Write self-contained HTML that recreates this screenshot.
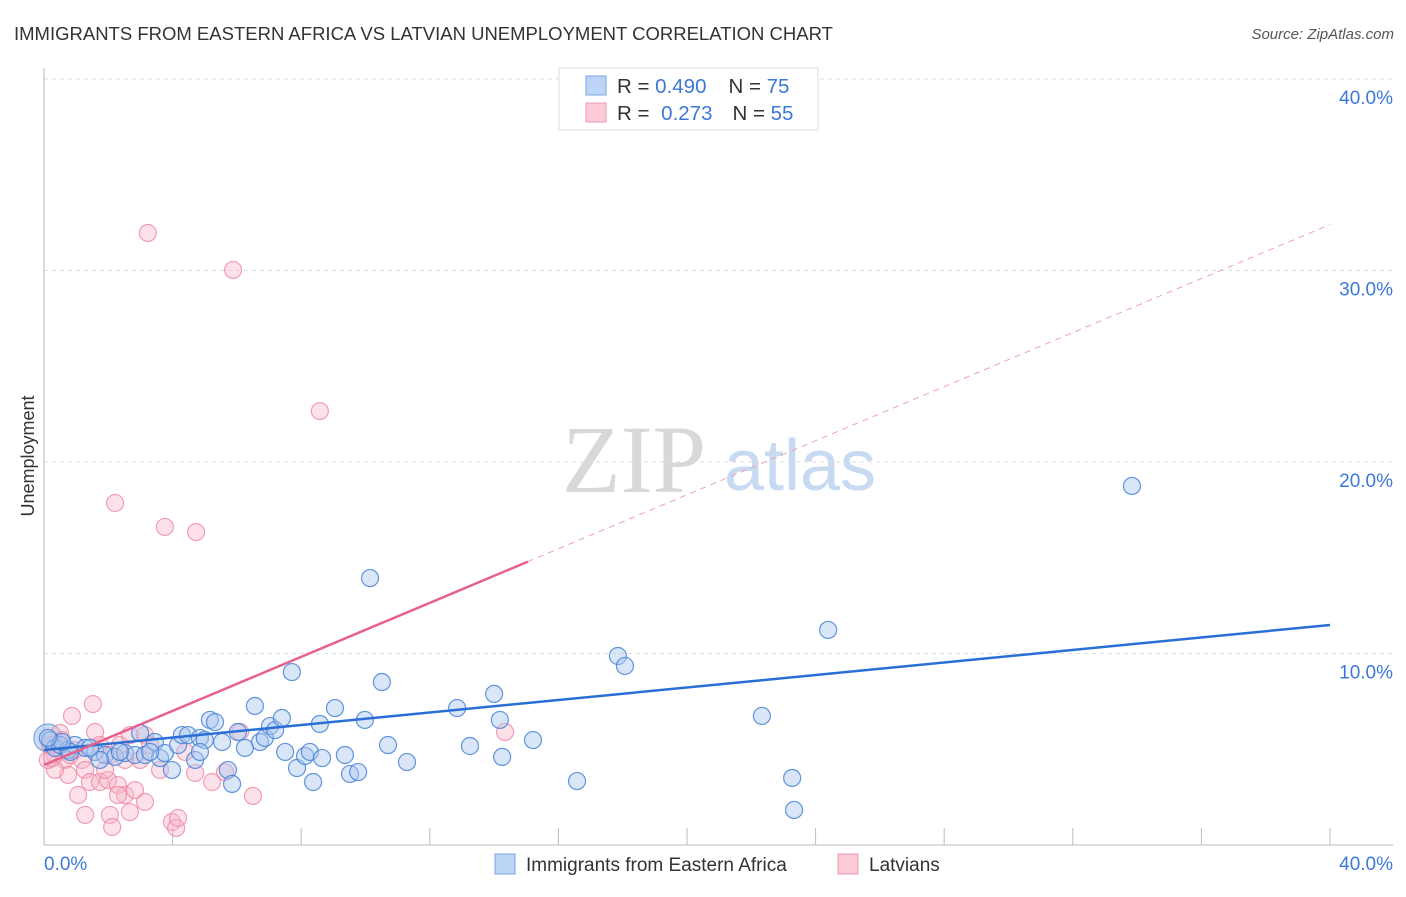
<!DOCTYPE html>
<html><head><meta charset="utf-8"><style>
body{margin:0;background:#fff;font-family:"Liberation Sans",sans-serif}
svg text{font-family:"Liberation Sans",sans-serif}
</style></head><body>
<svg id="c" width="1406" height="892">
<text x="14" y="40" font-size="18.5" fill="#333">IMMIGRANTS FROM EASTERN AFRICA VS LATVIAN UNEMPLOYMENT CORRELATION CHART</text>
<text x="1394" y="39" font-size="15" fill="#555" font-style="italic" text-anchor="end">Source: ZipAtlas.com</text>
<text x="34" y="456" font-size="18" fill="#333" text-anchor="middle" transform="rotate(-90 34 456)">Unemployment</text>
<g>
<text x="634" y="492" font-size="96" fill="#d8d8d8" font-family="Liberation Serif,serif" text-anchor="middle" style="font-family:'Liberation Serif',serif">ZIP</text>
<text x="800" y="490" font-size="72" fill="#c8daf2" text-anchor="middle">atlas</text>
</g>
<g id="grid"></g><g id="axes"></g><g id="pts"></g><g id="lines"></g>
<g>
<rect x="559" y="68" width="259" height="62" fill="#fff" stroke="#ddd"/>
<rect x="586" y="76" width="20" height="19" fill="#bcd4f6" stroke="#7aa6e6"/>
<rect x="586" y="103" width="20" height="19" fill="#fbcbd8" stroke="#ef9ab4"/>
<text x="617" y="93" font-size="20.5" fill="#333">R = <tspan fill="#3d78d8">0.490</tspan><tspan dx="22">N = </tspan><tspan fill="#3d78d8">75</tspan></text>
<text x="617" y="120" font-size="20.5" fill="#333">R = <tspan fill="#3d78d8" dx="6">0.273</tspan><tspan dx="20">N = </tspan><tspan fill="#3d78d8">55</tspan></text>
</g>
<g>
<rect x="495" y="854" width="20" height="20" fill="#bcd4f6" stroke="#7aa6e6"/>
<text x="526" y="871" font-size="19" fill="#333">Immigrants from Eastern Africa</text>
<rect x="838" y="854" width="20" height="20" fill="#fbcbd8" stroke="#ef9ab4"/>
<text x="869" y="871" font-size="19" fill="#333">Latvians</text>
</g>
</svg>
<script>
const yTicks=[10,20,30,40];
const yTickLabels=["10.0%","20.0%","30.0%","40.0%"];
const xTickVals=[0,4,8,12,16,20,24,28,32,36,40];
const blueX=[0.19,0.34,0.5,0.75,0.96,1.28,1.59,1.9,2.21,2.52,2.83,2.99,3.14,3.45,3.61,3.76,3.98,4.17,4.29,4.48,4.7,4.85,5.0,5.16,5.32,5.54,5.72,5.85,6.03,6.25,6.56,6.72,6.87,7.03,7.19,7.4,7.5,7.71,7.87,8.12,8.27,8.37,8.58,8.65,9.05,9.36,9.52,9.77,9.98,10.14,10.51,10.7,11.29,12.85,13.25,14.0,14.18,14.25,15.21,16.58,17.85,18.07,22.33,23.27,23.33,24.39,33.84,1.74,2.36,1.43,0.81,0.56,4.85,3.3,0.12];
const blueY=[5.48,5.07,5.22,4.96,5.22,5.07,4.86,4.7,4.6,4.8,4.7,5.85,4.7,5.38,4.54,4.8,3.92,5.22,5.74,5.74,4.44,5.59,5.48,6.53,6.42,5.38,3.92,3.19,5.9,5.07,7.26,5.38,5.59,6.21,6.0,6.63,4.86,9.03,4.02,4.65,4.86,3.29,6.32,4.54,7.15,4.7,3.71,3.81,6.53,13.94,8.51,5.22,4.33,7.15,5.17,7.89,6.53,4.6,5.48,3.34,9.87,9.35,6.74,3.5,1.83,11.23,18.75,4.44,4.86,5.07,4.86,5.38,4.86,4.86,5.59];
const pinkX=[3.23,5.88,8.58,2.21,3.76,4.73,0.87,1.52,1.59,0.5,0.19,0.34,0.65,0.96,1.18,1.74,2.05,2.36,2.67,3.14,3.61,0.75,1.06,1.28,1.43,1.74,1.99,2.3,2.52,2.83,3.14,2.3,1.28,2.05,2.12,2.67,3.98,4.11,4.17,4.7,5.23,5.63,6.1,6.5,14.34,4.39,2.99,0.34,0.56,0.12,0.25,3.3,1.9,2.52,0.81];
const pinkY=[31.96,30.03,22.66,17.86,16.61,16.34,6.74,7.36,5.9,5.85,5.22,4.7,4.44,4.96,4.44,5.22,4.7,5.22,5.74,5.74,3.92,3.66,2.61,3.92,3.29,3.29,3.39,3.13,2.61,2.87,2.25,2.61,1.57,1.57,0.94,1.72,1.2,0.89,1.41,3.76,3.29,3.81,5.9,2.56,5.9,4.86,4.44,3.92,5.48,4.44,4.54,5.22,3.92,4.44,4.7];
const blueLine=[4.96,11.49];
const pinkLine=[4.18,32.4];
const pinkSolidEnd=15.05;
const X=v=>44+v*32.15, Y=v=>845-v*19.15;
const NS="http://www.w3.org/2000/svg";
function mk(t,a,p){const e=document.createElementNS(NS,t);for(const k in a)e.setAttribute(k,a[k]);p.appendChild(e);return e;}
const g=document.getElementById('grid'),ax=document.getElementById('axes'),pts=document.getElementById('pts'),ln=document.getElementById('lines');
yTicks.forEach((v,i)=>{const l=mk('line',{x1:44,x2:1393,y1:Y(v),y2:Y(v),stroke:'#ddd','stroke-dasharray':'4,4'},g);


const t=mk('text',{x:1393,y:Y(v)+25,'font-size':19,fill:'#3d78d8','text-anchor':'end'},ax);t.textContent=yTickLabels[i];

});
const al=mk('line',{x1:44,x2:44,y1:68,y2:845,stroke:'#bbb'},ax);


const bl=mk('line',{x1:44,x2:1393,y1:845,y2:845,stroke:'#bbb'},ax);


xTickVals.forEach(v=>{const t=mk('line',{x1:X(v),x2:X(v),y1:828,y2:845,stroke:'#bbb'},ax);

});
const x0=mk('text',{x:44,y:870,'font-size':19,fill:'#3d78d8'},ax);x0.textContent='0.0%';


const x1=mk('text',{x:1393,y:870,'font-size':19,fill:'#3d78d8','text-anchor':'end'},ax);x1.textContent='40.0%';


const big=mk('circle',{cx:X(0.12),cy:Y(5.59),r:14,fill:'rgba(140,175,230,0.45)',stroke:'#6a9ee0'},pts);


pinkX.forEach((v,i)=>{const c=mk('circle',{cx:X(v),cy:Y(pinkY[i]),r:8.5,fill:'rgba(248,180,200,0.4)',stroke:'rgba(236,130,160,0.75)','stroke-width':1.2},pts);

});
blueX.forEach((v,i)=>{const c=mk('circle',{cx:X(v),cy:Y(blueY[i]),r:8.5,fill:'rgba(170,200,240,0.45)',stroke:'rgba(70,130,215,0.85)','stroke-width':1.2},pts);

});
const b=mk('line',{x1:X(0),y1:Y(blueLine[0]),x2:X(40),y2:Y(blueLine[1]),stroke:'#2a6fd6','stroke-width':2.5},ln);


const py=v=>pinkLine[0]+(pinkLine[1]-pinkLine[0])*v/40;
const p1=mk('line',{x1:X(0),y1:Y(py(0)),x2:X(pinkSolidEnd),y2:Y(py(pinkSolidEnd)),stroke:'#e8608c','stroke-width':2.5},ln);


const p2=mk('line',{x1:X(pinkSolidEnd),y1:Y(py(pinkSolidEnd)),x2:X(40),y2:Y(py(40)),stroke:'#eea0b8','stroke-width':1,'stroke-dasharray':'6,5'},ln);


</script>
</body></html>
